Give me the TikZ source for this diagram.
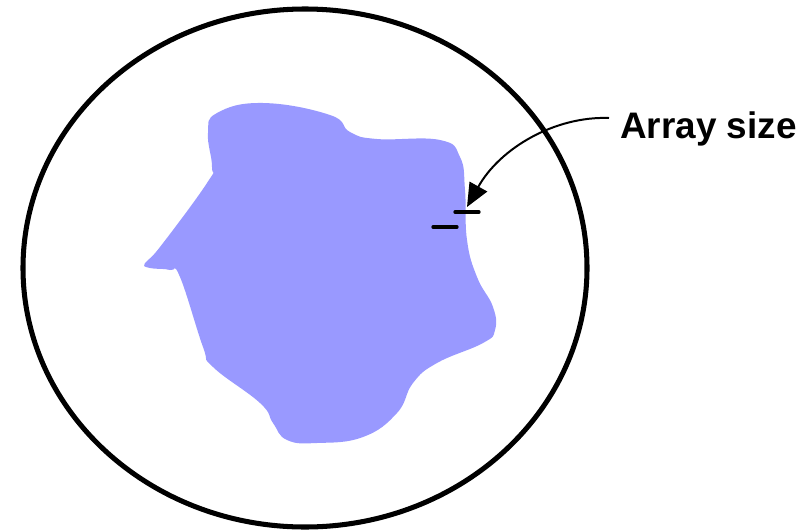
\documentclass[tikz,border=0pt]{standalone}
\usepackage{fontspec}
\setmainfont{Liberation Sans}
\usetikzlibrary{arrows.meta}
\definecolor{blobblue}{HTML}{9999FF}
\tikzset{
  dashmark/.style={line width=2.8pt, line cap=round},
  pointer/.style={line width=1.7pt, -{Triangle[length=20pt,width=17pt]}},
  label/.style={font=\fontsize{31.5}{36}\selectfont\bfseries, anchor=base west, inner sep=0pt}
}
\begin{document}
\begin{tikzpicture}[x=0.03cm,y=-0.03cm]
\useasboundingbox (0,0) rectangle (809,531);
% outer ellipse
\draw[line width=4.3pt] (305,268) ellipse [x radius=282, y radius=259];
% blob
\fill[blobblue] plot[smooth cycle, tension=0.75] coordinates {
 (217,113) (263,103) (330,115) (350,132) (377,139) (440,140) (460,157)
 (465,190) (467,240) (477,277) (493,307) (495,330) (483,343) (437,363)
 (413,383) (397,413) (363,437) (317,443) (287,440) (273,423) (260,403)
 (213,367) (203,347) (180,277) (170,270) (150,268) (145,263) (160,247)
 (207,183) (212,167) (208,133)};
% dashes
\coordinate (d1a) at (455,212); \coordinate (d1b) at (479,212);
\coordinate (d2a) at (433,227); \coordinate (d2b) at (457,227);
\draw[dashmark] (d1a) -- (d1b);
\draw[dashmark] (d2a) -- (d2b);
% label and pointer
\node[label] (lbl) at (620,138) {Array size};
\coordinate (tip) at (467,207);
\draw[pointer] (609,118) .. controls (555,116) and (500,148) .. (tip);
\end{tikzpicture}
\end{document}
